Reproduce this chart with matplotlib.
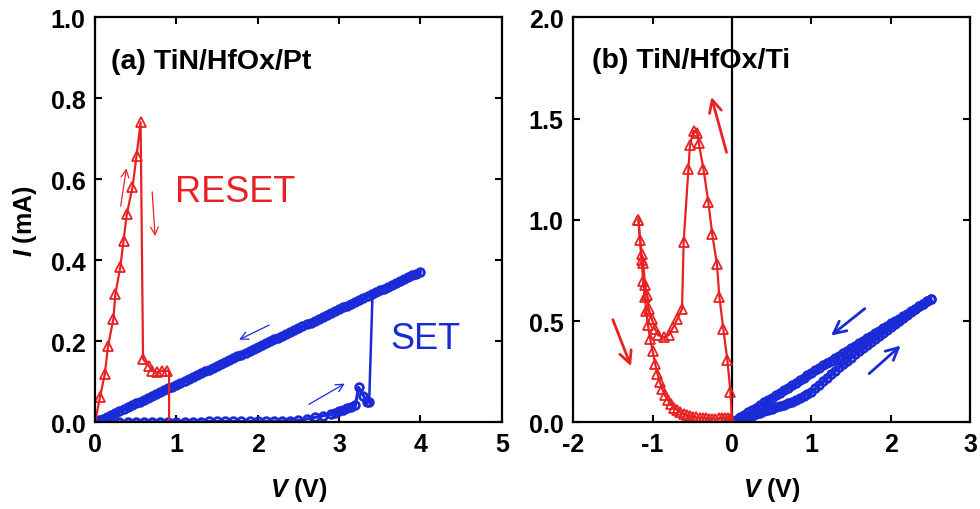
import matplotlib
matplotlib.use("Agg")
from matplotlib import pyplot as plt

plt.rcParams['font.family'] = ['Liberation Sans', 'DejaVu Sans']
plt.rcParams['font.weight'] = 'bold'
plt.rcParams['mathtext.fontset'] = 'custom'
plt.rcParams['mathtext.it'] = 'Liberation Sans:italic:bold'
plt.rcParams['mathtext.rm'] = 'Liberation Sans:bold'
plt.rcParams['axes.unicode_minus'] = False

RED = '#e82222'
BLUE = '#1a2ad6'

###############################################################################################
# (a) TiN/HfOx/Pt

# RESET sweep (mA vs V); triangles on the points between the first and the last drop
reset_v = [0.0, 0.06, 0.12, 0.16, 0.225, 0.25, 0.31, 0.35, 0.39, 0.46, 0.51, 0.56,
           0.59, 0.66, 0.70, 0.76, 0.82, 0.88, 0.91, 0.91, 0.0]
reset_i = [0.0, 0.062, 0.119, 0.189, 0.255, 0.317, 0.383, 0.448, 0.514, 0.58, 0.658, 0.741,
           0.156, 0.14, 0.127, 0.123, 0.127, 0.127, 0.127, 0.0, 0.0]
reset_marks = list(range(1, 18))

# SET sweep, forward (low current) part
set_fwd_v = [0.0, 0.1, 0.2, 0.3, 0.4, 0.5, 0.6, 0.7, 0.8, 0.9, 1.0, 1.1, 1.2, 1.3, 1.4,
             1.5, 1.6, 1.7, 1.8, 1.9, 2.0, 2.1, 2.2, 2.3, 2.4, 2.5, 2.6, 2.7, 2.8, 2.9,
             2.95, 3.0, 3.05, 3.1, 3.15, 3.2, 3.24, 3.30, 3.34, 3.37]
set_fwd_i = [0.0, 0.001, 0.001, 0.001, 0.001, 0.001, 0.001, 0.001, 0.001, 0.001, 0.001,
             0.001, 0.001, 0.001, 0.002, 0.002, 0.002, 0.002, 0.002, 0.002, 0.002, 0.002,
             0.003, 0.003, 0.004, 0.005, 0.008, 0.012, 0.016, 0.02, 0.024, 0.027, 0.031,
             0.035, 0.038, 0.042, 0.086, 0.066, 0.049, 0.05]
set_jump_v = [3.37, 3.41]
set_jump_i = [0.05, 0.31]

# SET sweep, return (low resistance state) from 4 V back to 0
set_ret_v = [4.00, 3.95, 3.90, 3.85, 3.80, 3.75, 3.70, 3.65, 3.60, 3.55, 3.50, 3.45, 3.40,
             3.35, 3.30, 3.25, 3.20, 3.15, 3.10, 3.05, 3.00, 2.95, 2.90, 2.85, 2.80, 2.75,
             2.70, 2.65, 2.60, 2.55, 2.50, 2.45, 2.40, 2.35, 2.30, 2.25, 2.20, 2.15, 2.10,
             2.05, 2.00, 1.95, 1.90, 1.85, 1.80, 1.75, 1.70, 1.65, 1.60, 1.55, 1.50, 1.45,
             1.40, 1.35, 1.30, 1.25, 1.20, 1.15, 1.10, 1.05, 1.00, 0.95, 0.90, 0.85, 0.80,
             0.75, 0.70, 0.65, 0.60, 0.55, 0.50, 0.45, 0.40, 0.35, 0.30, 0.25, 0.20, 0.15,
             0.10, 0.05, 0.00]
set_ret_i = [0.372, 0.367, 0.363, 0.358, 0.353, 0.349, 0.344, 0.339, 0.335, 0.330, 0.326,
             0.321, 0.316, 0.312, 0.307, 0.302, 0.298, 0.293, 0.288, 0.284, 0.279, 0.274,
             0.270, 0.265, 0.260, 0.256, 0.251, 0.246, 0.242, 0.237, 0.233, 0.228, 0.223,
             0.219, 0.214, 0.209, 0.205, 0.200, 0.195, 0.191, 0.186, 0.181, 0.177, 0.172,
             0.167, 0.163, 0.158, 0.153, 0.149, 0.144, 0.140, 0.135, 0.130, 0.126, 0.121,
             0.116, 0.112, 0.107, 0.102, 0.098, 0.093, 0.088, 0.084, 0.079, 0.074, 0.070,
             0.065, 0.060, 0.056, 0.051, 0.047, 0.042, 0.037, 0.033, 0.028, 0.023, 0.019,
             0.014, 0.009, 0.005, 0.000]

###############################################################################################
# (b) TiN/HfOx/Ti

# negative sweep, from 0 V out to -1.18 V
neg_out_v = [0.0, -0.02, -0.06, -0.11, -0.16, -0.19, -0.25, -0.30, -0.36, -0.42, -0.44, -0.485,
             -0.53, -0.55, -0.61, -0.63, -0.69, -0.74, -0.80, -0.86, -0.93, -0.97, -1.01,
             -1.05, -1.07, -1.095, -1.12, -1.14, -1.18]
neg_out_i = [0.0, 0.15, 0.31, 0.46, 0.62, 0.78, 0.93, 1.09, 1.25, 1.38, 1.43, 1.44,
             1.37, 1.25, 0.89, 0.56, 0.51, 0.47, 0.43, 0.42, 0.43, 0.46, 0.51,
             0.56, 0.63, 0.68, 0.785, 0.83, 1.00]
# negative sweep, back from -1.18 V to 0 V
neg_back_v = [-1.18, -1.16, -1.14, -1.12, -1.10, -1.08, -1.06, -1.03, -1.00, -0.97, -0.94,
              -0.91, -0.88, -0.85, -0.81, -0.77, -0.73, -0.69, -0.65, -0.61, -0.57, -0.53,
              -0.49, -0.45, -0.41, -0.37, -0.33, -0.29, -0.25, -0.21, -0.17, -0.13, -0.09,
              -0.05, -0.02, 0.0]
neg_back_i = [1.00, 0.90, 0.80, 0.70, 0.62, 0.55, 0.48, 0.41, 0.35, 0.29, 0.24,
              0.20, 0.165, 0.135, 0.11, 0.09, 0.073, 0.06, 0.05, 0.042, 0.036, 0.031,
              0.027, 0.024, 0.022, 0.02, 0.019, 0.018, 0.018, 0.018, 0.019, 0.02, 0.021,
              0.02, 0.015, 0.0]

# positive sweep, forward and return
pos_fwd_v = [0.00, 0.05, 0.10, 0.15, 0.20, 0.25, 0.30, 0.35, 0.40, 0.45, 0.50, 0.55, 0.60,
             0.65, 0.70, 0.75, 0.80, 0.85, 0.90, 0.95, 1.00, 1.05, 1.10, 1.15, 1.20, 1.25,
             1.30, 1.35, 1.40, 1.45, 1.50, 1.55, 1.60, 1.65, 1.70, 1.75, 1.80, 1.85, 1.90,
             1.95, 2.00, 2.05, 2.10, 2.15, 2.20, 2.25, 2.30, 2.35, 2.40, 2.45, 2.50]
pos_fwd_i = [0.000, 0.006, 0.012, 0.018, 0.025, 0.032, 0.040, 0.048, 0.055, 0.062, 0.068,
             0.074, 0.080, 0.086, 0.093, 0.101, 0.110, 0.120, 0.130, 0.140, 0.150, 0.167,
             0.185, 0.203, 0.220, 0.238, 0.255, 0.273, 0.290, 0.305, 0.320, 0.335, 0.350,
             0.365, 0.380, 0.395, 0.410, 0.425, 0.440, 0.455, 0.470, 0.485, 0.500, 0.515,
             0.530, 0.545, 0.560, 0.572, 0.585, 0.598, 0.610]
pos_ret_v = [2.50, 2.45, 2.40, 2.35, 2.30, 2.25, 2.20, 2.15, 2.10, 2.05, 2.00, 1.95, 1.90,
             1.85, 1.80, 1.75, 1.70, 1.65, 1.60, 1.55, 1.50, 1.45, 1.40, 1.35, 1.30, 1.25,
             1.20, 1.15, 1.10, 1.05, 1.00, 0.95, 0.90, 0.85, 0.80, 0.75, 0.70, 0.65, 0.60,
             0.55, 0.50, 0.45, 0.40, 0.35, 0.30, 0.25, 0.20, 0.15, 0.10, 0.05, 0.00]
pos_ret_i = [0.610, 0.598, 0.586, 0.573, 0.561, 0.549, 0.537, 0.525, 0.512, 0.500, 0.488,
             0.476, 0.464, 0.451, 0.439, 0.427, 0.415, 0.403, 0.390, 0.378, 0.366, 0.354,
             0.342, 0.329, 0.317, 0.305, 0.293, 0.281, 0.268, 0.256, 0.244, 0.232, 0.220,
             0.207, 0.195, 0.183, 0.171, 0.159, 0.146, 0.134, 0.122, 0.110, 0.098, 0.085,
             0.073, 0.061, 0.049, 0.037, 0.024, 0.012, 0.000]

###############################################################################################

fig = plt.figure(figsize=(9.8, 5.1), dpi=100)
ax1 = fig.add_axes([0.097, 0.170, 0.415, 0.794])
ax2 = fig.add_axes([0.585, 0.170, 0.405, 0.794])

tri = dict(marker='^', markersize=6.5, markerfacecolor='none', markeredgecolor=RED,
           markeredgewidth=1.3)
circ = dict(marker='o', markersize=5.5, markerfacecolor='none', markeredgecolor=BLUE,
            markeredgewidth=2.0)

# panel a
ax1.plot(set_fwd_v, set_fwd_i, color=BLUE, lw=2.2, **circ)
ax1.plot(set_jump_v, set_jump_i, color=BLUE, lw=1.8)
ax1.plot(set_ret_v, set_ret_i, color=BLUE, lw=2.2, **circ)
ax1.plot(reset_v, reset_i, color=RED, lw=1.6, markevery=reset_marks, **tri)

arr_thin = dict(arrowstyle='->', lw=0.9, mutation_scale=14)
ax1.annotate('', xy=(0.39, 0.634), xytext=(0.31, 0.527), arrowprops=dict(color=RED, **arr_thin))
ax1.annotate('', xy=(0.74, 0.453), xytext=(0.70, 0.576), arrowprops=dict(color=RED, **arr_thin))
ax1.annotate('', xy=(1.74, 0.201), xytext=(2.17, 0.243), arrowprops=dict(color=BLUE, **arr_thin))
ax1.annotate('', xy=(3.10, 0.099), xytext=(2.60, 0.041), arrowprops=dict(color=BLUE, **arr_thin))

ax1.text(0.98, 0.57, 'RESET', color=RED, fontsize=26, fontweight='normal', va='center')
ax1.text(3.63, 0.206, 'SET', color=BLUE, fontsize=26, fontweight='normal', va='center')
ax1.text(0.2, 0.892, '(a) TiN/HfOx/Pt', fontsize=20.5, fontweight='bold', va='center')

ax1.set_xlim(0, 5)
ax1.set_ylim(0, 1.0)
ax1.set_xticks([0, 1, 2, 3, 4, 5])
ax1.set_yticks([0.0, 0.2, 0.4, 0.6, 0.8, 1.0])
ax1.set_yticklabels(['0.0', '0.2', '0.4', '0.6', '0.8', '1.0'])
ax1.set_xlabel('$V$ (V)', fontsize=18, fontweight='bold', labelpad=14)
ax1.set_ylabel('$I$ (mA)', fontsize=18, fontweight='bold', labelpad=8)

# panel b
ax2.axvline(0, color='black', lw=1.6, zorder=1)
ax2.plot(pos_fwd_v, pos_fwd_i, color=BLUE, lw=2.2, **circ)
ax2.plot(pos_ret_v, pos_ret_i, color=BLUE, lw=2.2, **circ)
ax2.plot(neg_back_v, neg_back_i, color=RED, lw=1.6, **tri)
ax2.plot(neg_out_v, neg_out_i, color=RED, lw=1.6, markevery=list(range(1, len(neg_out_v))), **tri)

arr_thick = dict(arrowstyle='->', lw=2, mutation_scale=22)
ax2.annotate('', xy=(-1.26, 0.264), xytext=(-1.515, 0.52), arrowprops=dict(color=RED, **arr_thick))
ax2.annotate('', xy=(-0.27, 1.62), xytext=(-0.06, 1.32), arrowprops=dict(color=RED, **arr_thick))
ax2.annotate('', xy=(1.22, 0.42), xytext=(1.70, 0.57), arrowprops=dict(color=BLUE, **arr_thick))
ax2.annotate('', xy=(2.15, 0.388), xytext=(1.70, 0.231), arrowprops=dict(color=BLUE, **arr_thick))

ax2.text(-1.77, 1.79, '(b) TiN/HfOx/Ti', fontsize=20.5, fontweight='bold', va='center')

ax2.set_xlim(-2, 3)
ax2.set_ylim(0, 2.0)
ax2.set_xticks([-2, -1, 0, 1, 2, 3])
ax2.set_yticks([0.0, 0.5, 1.0, 1.5, 2.0])
ax2.set_yticklabels(['0.0', '0.5', '1.0', '1.5', '2.0'])
ax2.set_xlabel('$V$ (V)', fontsize=18, fontweight='bold', labelpad=14)

for ax in (ax1, ax2):
    for s in ax.spines.values():
        s.set_linewidth(1.6)
    ax.tick_params(direction='in', top=True, right=True, length=5, width=1.5,
                   labelsize=18, pad=7)
    for lab in ax.get_xticklabels() + ax.get_yticklabels():
        lab.set_fontweight('bold')

fig.savefig('out.png', dpi=100)
